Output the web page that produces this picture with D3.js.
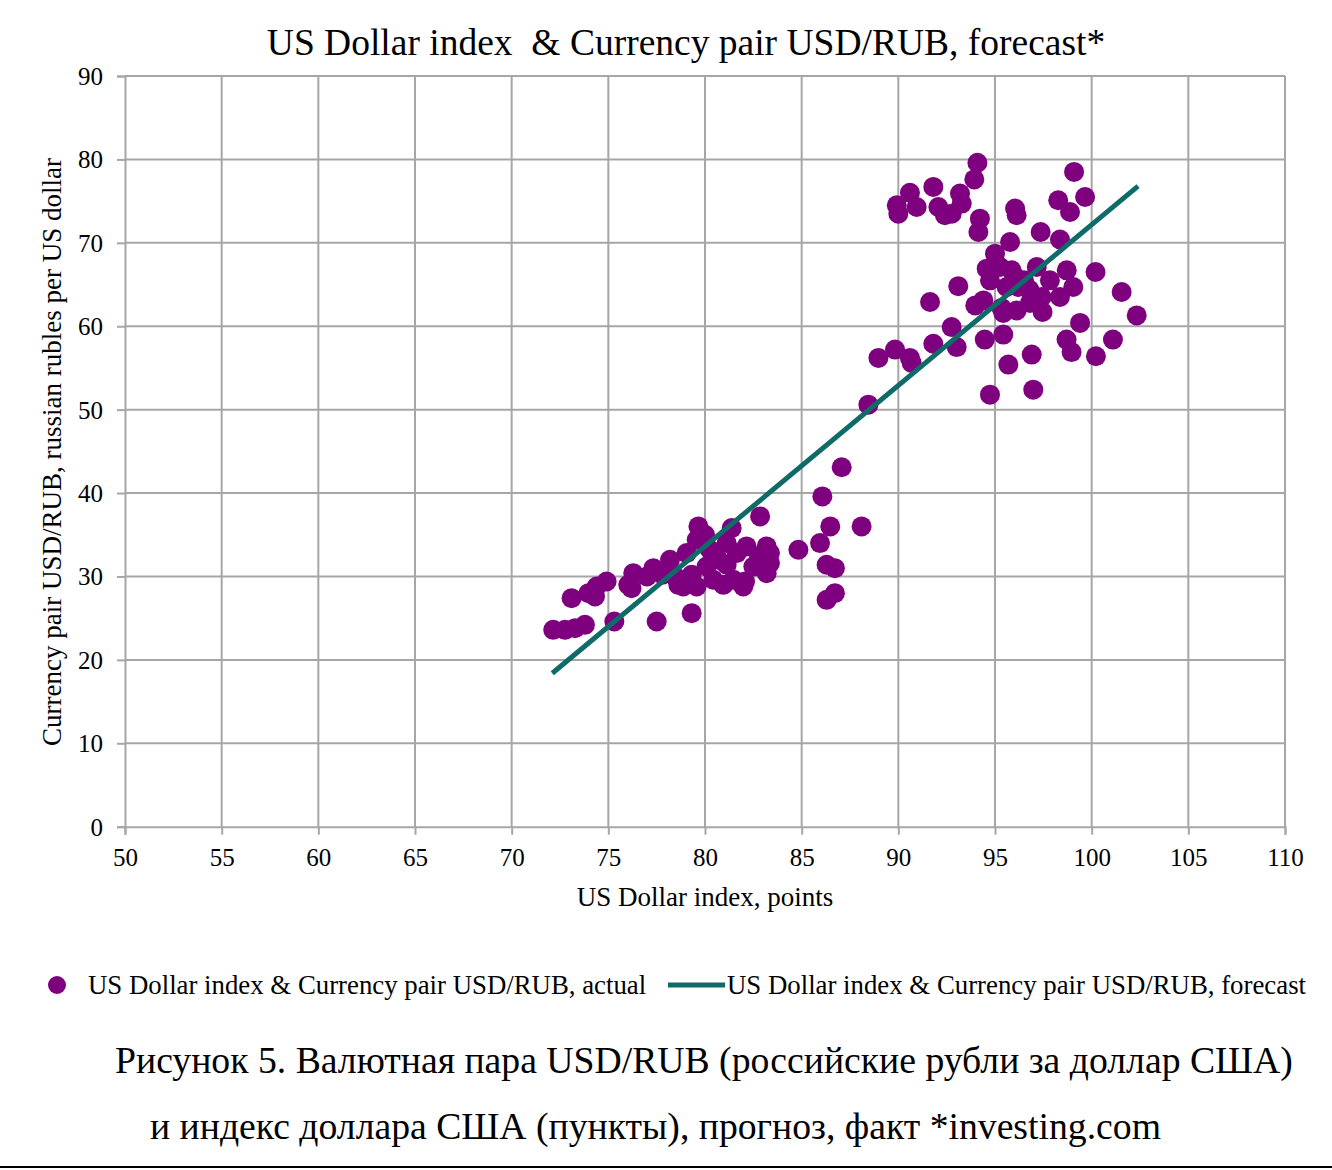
<!DOCTYPE html>
<html>
<head>
<meta charset="utf-8">
<script src="https://cdn.jsdelivr.net/npm/d3@7"></script>
<style>
  html, body { margin: 0; padding: 0; background: #fff; }
  svg text { font-family: "Liberation Serif", "Times New Roman", serif; fill: #000; }
</style>
</head>
<body>
<svg id="chart" width="1332" height="1170"></svg>
<script>
// ---- data ----
const dollarIndex = [
  72.15, 72.76, 73.28, 73.79, 73.1, 73.97, 74.4, 74.91, 74.31, 75.31, 77.5, 79.31,
  76.2, 76.03, 76.29, 77.0, 77.33, 77.8, 78.19, 78.45, 78.62, 78.88, 79.05, 79.31,
  79.57, 79.66, 79.57, 80.0, 80.08, 80.26, 80.43, 80.7, 80.95, 81.12, 81.38, 81.12,
  81.64, 81.47, 81.98, 82.15, 82.5, 82.07, 82.8, 83.19, 83.36, 83.19, 83.36, 82.85,
  84.83, 85.95, 86.07, 86.48, 87.07, 88.1, 86.29, 86.72, 86.29, 86.72,
  88.45, 88.97, 89.83, 90.6, 90.69, 91.64, 91.81, 92.76, 93.02, 93.1, 93.98, 94.4,
  94.47, 94.74, 95.34, 95.43, 95.43, 95.69, 96.12, 96.9, 96.98, 97.46, 96.81, 97.41,
  98.36, 98.7, 98.96, 99.4, 100.22, 101.1, 102.33, 101.55, 100.2,
  94.57, 95.26, 94.74, 95.86, 95.6, 96.21, 96.0, 96.5, 97.16, 97.84, 98.71, 99.05,
  96.77, 95.0, 95.78, 97.36, 98.36, 96.04, 96.12, 98.27, 98.88, 99.09, 99.66, 94.09,
  93.93, 94.14, 94.22,
  89.92, 90.0, 90.6, 90.95, 91.81, 92.07, 92.41, 92.76, 93.19, 93.28
];
const usdRub = [
  23.6, 23.6, 23.8, 24.2, 27.4, 28.0, 28.8, 29.4, 27.6, 24.6, 24.6, 25.6,
  28.6, 29.0, 30.4, 30.0, 31.0, 30.2, 32.0, 30.0, 29.0, 28.8, 32.8, 30.2,
  28.8, 36.0, 34.4, 35.0, 31.2, 33.2, 29.6, 32.0, 29.0, 34.0, 35.8, 31.4,
  32.8, 29.6, 28.8, 33.6, 31.2, 29.4, 32.4, 33.6, 31.6, 30.4, 32.8, 37.2,
  33.2, 34.0, 39.6, 36.0, 43.1, 36.0, 31.4, 31.0, 27.2, 28.0,
  50.6, 56.2, 57.2, 56.2, 55.6, 62.9, 57.9, 59.9, 57.5, 64.8, 62.5, 63.1,
  58.4, 51.8, 62.2, 61.6, 59.0, 55.4, 61.9, 56.6, 52.4, 61.7, 62.8, 63.5,
  63.5, 58.4, 56.9, 60.4, 56.4, 58.4, 61.3, 64.1, 66.5,
  66.9, 67.1, 65.5, 66.7, 64.7, 64.7, 66.0, 65.5, 67.1, 65.5, 66.7, 64.7,
  64.4, 68.7, 70.1, 71.3, 70.4, 74.1, 73.3, 75.1, 73.7, 78.5, 75.5, 79.6,
  77.6, 71.3, 72.9,
  74.5, 73.5, 76.0, 74.3, 76.7, 74.3, 73.3, 73.5, 75.9, 74.7
];
const forecastX = [72.1, 102.4];
const forecastY = [18.4, 76.8];
const xTicks = [50, 55, 60, 65, 70, 75, 80, 85, 90, 95, 100, 105, 110];
const yTicks = [0, 10, 20, 30, 40, 50, 60, 70, 80, 90];

const titleText = "US Dollar index  & Currency pair USD/RUB, forecast*";
const xTitle = "US Dollar index, points";
const yTitle = "Currency pair USD/RUB, russian rubles per US dollar";
const legendActual = "US Dollar index & Currency pair USD/RUB, actual";
const legendForecast = "US Dollar index & Currency pair USD/RUB, forecast";
const caption1 = "Рисунок 5. Валютная пара USD/RUB (российские рубли за доллар США)";
const caption2 = "и индекс доллара США (пункты), прогноз, факт *investing.com";

// ---- layout ----
const svg = d3.select("#chart");
const plotL = 125, plotR = 1285, plotT = 76, plotB = 826.7;
const gridColor = "#a6a6a6";
const pointColor = "#7f007f";
const lineColor = "#0f6b68";

const x = d3.scaleLinear().domain([50, 110]).range([plotL, plotR]);
const y = d3.scaleLinear().domain([0, 90]).range([plotB, plotT]);

// grid
svg.append("g").selectAll("line").data(xTicks.slice(1)).join("line")
  .attr("x1", d => x(d)).attr("x2", d => x(d))
  .attr("y1", plotT).attr("y2", plotB)
  .attr("stroke", gridColor).attr("stroke-width", 2);
svg.append("g").selectAll("line").data(yTicks.slice(1)).join("line")
  .attr("x1", plotL).attr("x2", plotR)
  .attr("y1", d => y(d)).attr("y2", d => y(d))
  .attr("stroke", gridColor).attr("stroke-width", 2);

// axes
const xAxis = svg.append("g").attr("transform", `translate(0,${plotB})`)
  .call(d3.axisBottom(x).tickValues(xTicks).tickSize(8).tickPadding(14).tickFormat(d3.format("d")));
const yAxis = svg.append("g").attr("transform", `translate(${plotL},0)`)
  .call(d3.axisLeft(y).tickValues(yTicks).tickSize(8).tickPadding(14).tickFormat(d3.format("d")));
[xAxis, yAxis].forEach(a => {
  a.select(".domain").attr("stroke", gridColor).attr("stroke-width", 2);
  a.selectAll(".tick line").attr("stroke", gridColor).attr("stroke-width", 2);
  a.selectAll(".tick text").attr("fill", "#000")
    .style("font-family", '"Liberation Serif", serif').style("font-size", "25px");
});
yAxis.selectAll(".tick text").attr("dy", "0.34em");

// points
const pts = dollarIndex.map((d, i) => [d, usdRub[i]]);
svg.append("g").selectAll("circle").data(pts).join("circle")
  .attr("cx", d => x(d[0])).attr("cy", d => y(d[1])).attr("r", 10)
  .attr("fill", pointColor);

// forecast line
svg.append("path")
  .datum(forecastX.map((d, i) => [d, forecastY[i]]))
  .attr("d", d3.line().x(d => x(d[0])).y(d => y(d[1])))
  .attr("stroke", lineColor).attr("stroke-width", 5).attr("fill", "none");

// title
svg.append("text").attr("x", 686).attr("y", 55).attr("text-anchor", "middle")
  .style("font-size", "37.5px").style("white-space", "pre").text(titleText);

// axis titles
svg.append("text").attr("x", 705).attr("y", 906).attr("text-anchor", "middle")
  .style("font-size", "27px").text(xTitle);
svg.append("text").attr("transform", "translate(61,452) rotate(-90)").attr("text-anchor", "middle")
  .style("font-size", "27px").text(yTitle);

// legend
svg.append("circle").attr("cx", 57).attr("cy", 985).attr("r", 9).attr("fill", pointColor);
svg.append("text").attr("x", 88).attr("y", 994).style("font-size", "26.8px").text(legendActual);
svg.append("line").attr("x1", 668).attr("x2", 725).attr("y1", 985).attr("y2", 985)
  .attr("stroke", lineColor).attr("stroke-width", 5);
svg.append("text").attr("x", 727).attr("y", 994).style("font-size", "26.8px").text(legendForecast);

// caption
svg.append("text").attr("x", 115).attr("y", 1073).style("font-size", "37.7px").text(caption1);
svg.append("text").attr("x", 150).attr("y", 1139).style("font-size", "37.7px").text(caption2);

// bottom rule
svg.append("line").attr("x1", 0).attr("x2", 1332).attr("y1", 1167).attr("y2", 1167)
  .attr("stroke", "#000").attr("stroke-width", 2);
</script>
</body>
</html>
